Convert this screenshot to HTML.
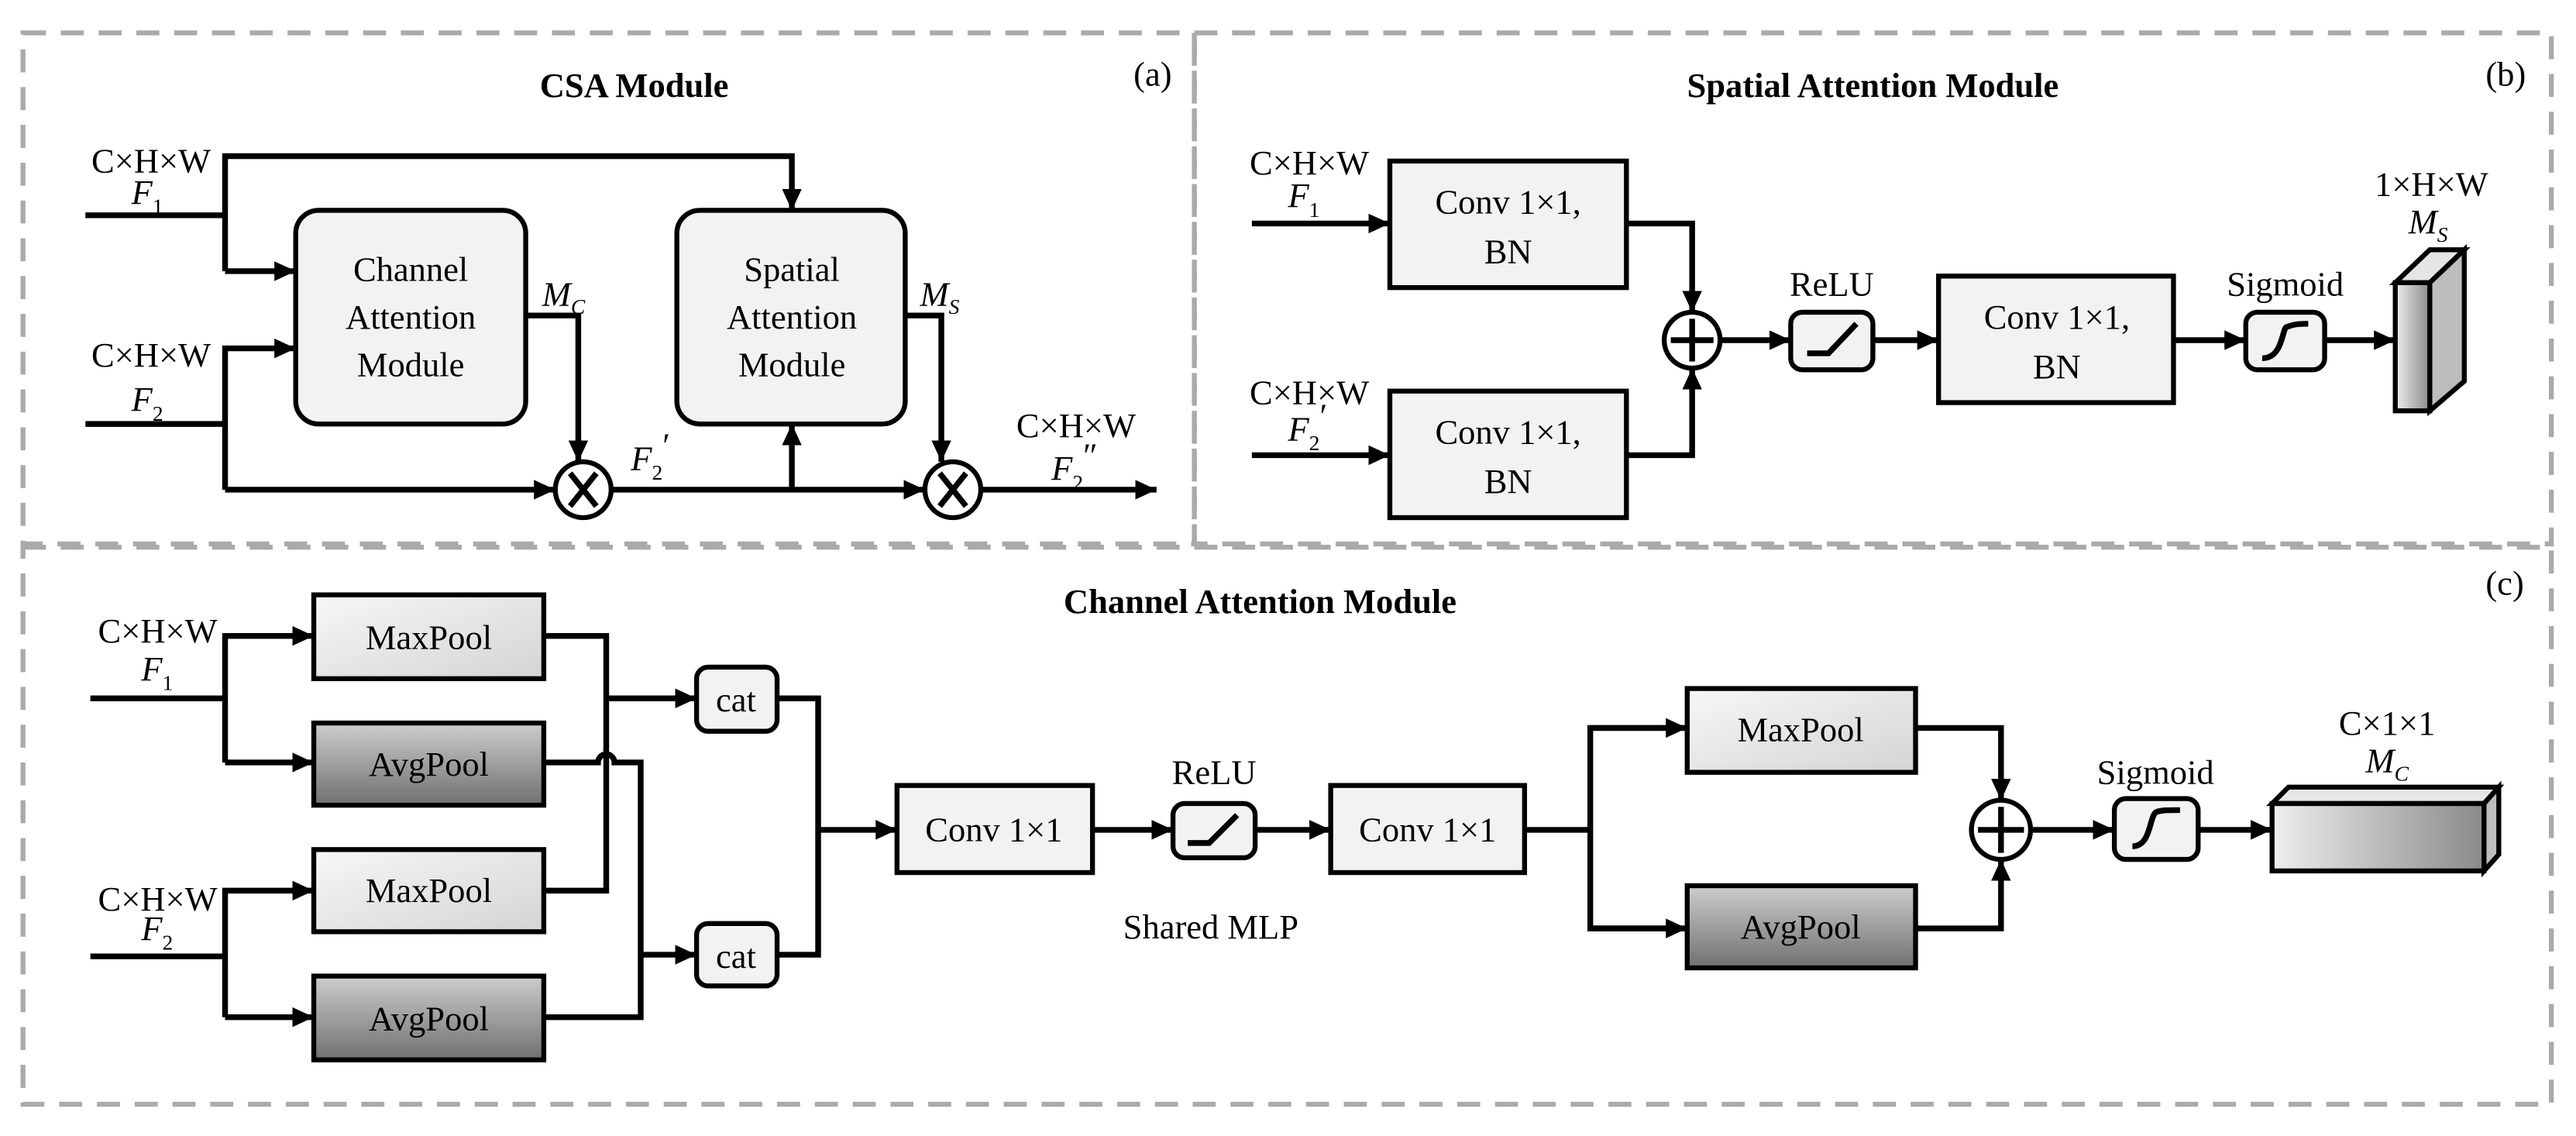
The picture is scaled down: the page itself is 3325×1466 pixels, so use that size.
<!DOCTYPE html>
<html><head><meta charset="utf-8"><style>html,body{margin:0;padding:0;background:#fff}svg{display:block}svg text{font-family:"Liberation Serif","DejaVu Serif",serif}</style></head><body>
<svg width="3325" height="1466" viewBox="0 0 1568 691.3" xmlns="http://www.w3.org/2000/svg" style="font-family:'Liberation Serif',serif" font-size="21">
<defs>
<marker id="a" markerUnits="userSpaceOnUse" markerWidth="14" markerHeight="12" refX="13" refY="6" orient="auto"><path d="M0,0 L13,6 L0,12 Z" fill="#000"/></marker>
<linearGradient id="gm" x1="0" y1="0" x2="1" y2="1"><stop offset="0" stop-color="#f7f7f7"/><stop offset="1" stop-color="#d4d4d4"/></linearGradient>
<linearGradient id="ga" x1="0" y1="0" x2="0" y2="1"><stop offset="0" stop-color="#cdcdcd"/><stop offset="1" stop-color="#707070"/></linearGradient>
<linearGradient id="gf" x1="0" y1="0" x2="1" y2="0"><stop offset="0" stop-color="#eeeeee"/><stop offset="1" stop-color="#8a8a8a"/></linearGradient>
</defs>
<g fill="none" stroke="#aaa" stroke-width="3" stroke-dasharray="14,9">
<rect x="14" y="20" width="713" height="311"/>
<rect x="727" y="20" width="826" height="311"/>
<rect x="14" y="333" width="1539" height="339"/>
</g>
<g font-weight="bold" text-anchor="middle">
<text x="386" y="59">CSA Module</text>
<text x="1140" y="59">Spatial Attention Module</text>
<text x="767" y="373">Channel Attention Module</text>
</g>
<text x="690" y="52">(a)</text><text x="1513" y="52">(b)</text><text x="1513" y="362">(c)</text>

<g stroke="#000" stroke-width="3.5" fill="none">
<polyline points="52,131 137,131"/>
<polyline points="137,165 137,95 482,95 482,128" marker-end="url(#a)"/>
<polyline points="137,165 180,165" marker-end="url(#a)"/>
<polyline points="52,258 137,258"/>
<polyline points="137,298 137,212 180,212" marker-end="url(#a)"/>
<polyline points="137,298 338,298" marker-end="url(#a)"/>
<polyline points="320,192 352,192 352,281" marker-end="url(#a)"/>
<polyline points="372,298 563,298" marker-end="url(#a)"/>
<polyline points="482,298 482,258" marker-end="url(#a)"/>
<polyline points="551,192 573,192 573,281" marker-end="url(#a)"/>
<polyline points="597,298 704,298" marker-end="url(#a)"/>
<polyline points="762,136 846,136" marker-end="url(#a)"/>
<polyline points="762,277 846,277" marker-end="url(#a)"/>
<polyline points="990,136 1030,136 1030,190" marker-end="url(#a)"/>
<polyline points="990,277 1030,277 1030,224" marker-end="url(#a)"/>
<polyline points="1047,207 1090,207" marker-end="url(#a)"/>
<polyline points="1140,207 1180,207" marker-end="url(#a)"/>
<polyline points="1323,207 1367,207" marker-end="url(#a)"/>
<polyline points="1415,207 1458,207" marker-end="url(#a)"/>
<polyline points="55,425 137,425"/>
<polyline points="137,464 137,387 191,387" marker-end="url(#a)"/>
<polyline points="137,464 191,464" marker-end="url(#a)"/>
<polyline points="55,582 137,582"/>
<polyline points="137,619 137,542 191,542" marker-end="url(#a)"/>
<polyline points="137,619 191,619" marker-end="url(#a)"/>
<polyline points="331,387 369,387 369,542 331,542"/>
<polyline points="369,425 424,425" marker-end="url(#a)"/>
<path d="M331,464 L364,464 A5,5 0 0 1 374,464 L390,464 L390,619 L331,619"/>
<polyline points="390,581 424,581" marker-end="url(#a)"/>
<polyline points="473,425 498,425 498,581 473,581"/>
<polyline points="498,505 546,505" marker-end="url(#a)"/>
<polyline points="665,505 714,505" marker-end="url(#a)"/>
<polyline points="764,505 810,505" marker-end="url(#a)"/>
<polyline points="928,505 968,505"/>
<polyline points="1027,443 968,443 968,565 1027,565"/>
<polyline points="968,443 1027,443" marker-end="url(#a)"/>
<polyline points="968,565 1027,565" marker-end="url(#a)"/>
<polyline points="1166,443 1218,443 1218,487" marker-end="url(#a)"/>
<polyline points="1166,565 1218,565 1218,523" marker-end="url(#a)"/>
<polyline points="1236,505 1287,505" marker-end="url(#a)"/>
<polyline points="1338,505 1383,505" marker-end="url(#a)"/>
</g>

<g stroke="#000" stroke-width="3">
<rect x="180" y="128" width="140" height="130" rx="14" fill="#f2f2f2"/>
<rect x="412" y="128" width="139" height="130" rx="14" fill="#f2f2f2"/>
<circle cx="355" cy="298" r="17" fill="#fff"/><path d="M347,288 L363,308 M363,288 L347,308" stroke-width="3.5"/>
<circle cx="580" cy="298" r="17" fill="#fff"/><path d="M572,288 L588,308 M588,288 L572,308" stroke-width="3.5"/>
<rect x="846" y="98" width="144" height="77" fill="#f2f2f2"/>
<rect x="846" y="238" width="144" height="77" fill="#f2f2f2"/>
<circle cx="1030" cy="207" r="17" fill="#fff"/><path d="M1017,207 H1043 M1030,194 V220" stroke-width="3.5"/>
<rect x="1090" y="190" width="50" height="35" rx="7" fill="#f2f2f2"/>
<path d="M1100,215 H1113 L1130,197" fill="none" stroke-width="3.5"/>
<rect x="1180" y="168" width="143" height="77" fill="#f2f2f2"/>
<rect x="1367" y="190" width="48" height="35" rx="7" fill="#f2f2f2"/>
<path d="M1377,218 C1390,218 1389,199 1392,199 C1395,198 1396,197 1405,197" fill="none" stroke-width="3.5"/>
<path d="M1458,172 L1479,152 L1500,152 L1479,172 Z" fill="#e6e6e6"/>
<path d="M1479,172 L1500,152 L1500,232 L1479,250 Z" fill="#bdbdbd"/>
<rect x="1458" y="172" width="21" height="78" fill="url(#gf)"/>
<rect x="191" y="362" width="140" height="51" fill="url(#gm)"/>
<rect x="191" y="440" width="140" height="50" fill="url(#ga)"/>
<rect x="191" y="517" width="140" height="50" fill="url(#gm)"/>
<rect x="191" y="594" width="140" height="51" fill="url(#ga)"/>
<rect x="424" y="406" width="49" height="39" rx="7" fill="#f2f2f2"/>
<rect x="424" y="562" width="49" height="38" rx="7" fill="#f2f2f2"/>
<rect x="546" y="478" width="119" height="53" fill="#f2f2f2"/>
<rect x="714" y="489" width="50" height="33" rx="7" fill="#f2f2f2"/>
<path d="M723,513 H736 L753,496" fill="none" stroke-width="3.5"/>
<rect x="810" y="478" width="118" height="53" fill="#f2f2f2"/>
<rect x="1027" y="419" width="139" height="51" fill="url(#gm)"/>
<rect x="1027" y="539" width="139" height="50" fill="url(#ga)"/>
<circle cx="1218" cy="505" r="18" fill="#fff"/><path d="M1204,505 H1232 M1218,491 V519" stroke-width="3.5"/>
<rect x="1287" y="486" width="51" height="37" rx="7" fill="#f2f2f2"/>
<path d="M1298,515 C1310,515 1308,495 1313,494 C1316,493 1319,493 1327,493" fill="none" stroke-width="3.5"/>
<path d="M1383,489 L1393,479 L1521,479 L1512,489 Z" fill="#e6e6e6"/>
<path d="M1512,489 L1521,479 L1521,520 L1512,530 Z" fill="#bdbdbd"/>
<rect x="1383" y="489" width="129" height="41" fill="url(#gf)"/>
</g>

<g text-anchor="middle">
<text x="250" y="171">Channel</text><text x="250" y="200">Attention</text><text x="250" y="229">Module</text>
<text x="482" y="171">Spatial</text><text x="482" y="200">Attention</text><text x="482" y="229">Module</text>
<text x="918" y="130">Conv 1×1,</text><text x="918" y="160">BN</text>
<text x="918" y="270">Conv 1×1,</text><text x="918" y="300">BN</text>
<text x="1252" y="200">Conv 1×1,</text><text x="1252" y="230">BN</text>
<text x="1115" y="180">ReLU</text><text x="1391" y="180">Sigmoid</text>
<text x="1480" y="119">1×H×W</text>
<text x="261" y="395">MaxPool</text><text x="261" y="472">AvgPool</text>
<text x="261" y="549">MaxPool</text><text x="261" y="627">AvgPool</text>
<text x="448" y="433">cat</text><text x="448" y="589">cat</text>
<text x="605" y="512">Conv 1×1</text><text x="869" y="512">Conv 1×1</text>
<text x="739" y="477">ReLU</text><text x="737" y="571">Shared MLP</text>
<text x="1096" y="451">MaxPool</text><text x="1096" y="571">AvgPool</text>
<text x="1312" y="477">Sigmoid</text><text x="1453" y="447">C×1×1</text>
<text x="92" y="105">C×H×W</text><text x="92" y="223">C×H×W</text>
<text x="797" y="106">C×H×W</text><text x="797" y="246">C×H×W</text>
<text x="96" y="391">C×H×W</text><text x="96" y="554">C×H×W</text>
<text x="655" y="266">C×H×W</text>
</g>
<g font-style="italic">
<text x="80" y="124">F<tspan font-size="13" dy="6" font-style="normal">1</tspan></text>
<text x="80" y="250">F<tspan font-size="13" dy="6" font-style="normal">2</tspan></text>
<text x="330" y="186">M<tspan font-size="13" dy="5">C</tspan></text>
<text x="560" y="186">M<tspan font-size="13" dy="5">S</tspan></text>
<text x="384" y="286">F<tspan font-size="13" dy="6" font-style="normal">2</tspan><tspan dy="-14" font-style="normal">′</tspan></text>
<text x="640" y="292">F<tspan font-size="13" dy="6" font-style="normal">2</tspan><tspan dy="-14" font-style="normal">″</tspan></text>
<text x="784" y="126">F<tspan font-size="13" dy="6" font-style="normal">1</tspan></text>
<text x="784" y="268">F<tspan font-size="13" dy="6" font-style="normal">2</tspan><tspan dy="-14" font-style="normal">′</tspan></text>
<text x="1466" y="142">M<tspan font-size="13" dy="5">S</tspan></text>
<text x="86" y="414">F<tspan font-size="13" dy="6" font-style="normal">1</tspan></text>
<text x="86" y="572">F<tspan font-size="13" dy="6" font-style="normal">2</tspan></text>
<text x="1440" y="470">M<tspan font-size="13" dy="5">C</tspan></text>
</g>
</svg>
</body></html>
